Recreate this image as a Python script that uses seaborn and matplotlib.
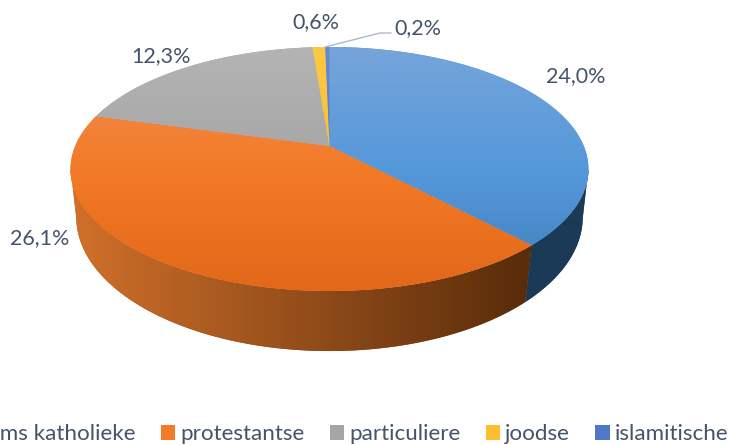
import numpy as np
import seaborn as sns
import matplotlib.pyplot as plt
from matplotlib.colors import to_rgb
from matplotlib.patches import Patch, Polygon

sns.set_theme(style='white')
plt.rcParams['font.family'] = ['Lato', 'DejaVu Sans']

categories = ['rooms katholieke', 'protestantse', 'particuliere', 'joodse', 'islamitische']
values = [24.0, 26.1, 12.3, 0.6, 0.2]
value_labels = ['24,0%', '26,1%', '12,3%', '0,6%', '0,2%']
label_pos = [(576, 76), (40, 238), (161, 56), (316, 22), (418, 28)]

# top colours: upper, middle, lower part of the pie
top_colors = [('#75a5da', '#5598da', '#3f7fbb'),
              ('#f09058', '#f37a26', '#e2681a'),
              ('#b4b4b4', '#a5a5a5', '#989898'),
              ('#fcc844', '#fdbf2d', '#f5b400'),
              ('#6a8ad0', '#4f78c8', '#3f68b8')]
# side colours: left and right end
side_colors = [('#1b3a57', '#1b3a57'),
               ('#d0702a', '#592c0a'),
               ('#7a7a7a', '#5a5a5a'),
               ('#a07a10', '#a07a10'),
               ('#2a4a80', '#2a4a80')]
text_color = '#44546a'


# perspective of the flat pie: top plane and bottom plane, pixel coordinates
def project(u, v, bottom=False):
    if bottom:
        d = 1 + 0.175 * v
        return 329.5 + 249.3 * u / d, (-96.0 * v + 193.6) / d
    d = 1 + 0.1885 * v
    return 329.5 + 254.3 * u / d, (-90.14 * v + 146.0) / d


def mix(c1, c2, t):
    c1, c2 = np.array(to_rgb(c1)), np.array(to_rgb(c2))
    return c1 + (c2 - c1) * t


fig, ax = plt.subplots(figsize=(7.31, 4.45), dpi=100)
fig.subplots_adjust(left=0, right=1, bottom=0, top=1)
wedges, _ = ax.pie(values, startangle=90, counterclock=False)
angles = [(w.theta1, w.theta2) for w in wedges]
for w in wedges:
    w.remove()
ax.set_aspect('auto')

# side wall, horizontal gradient; only the part in front of the widest point shows
for i, (t1, t2) in enumerate(angles):
    th = np.radians(np.linspace(t1, t2, 300))
    th = th[np.sin(th) < -0.18]
    if len(th) < 2:
        continue
    x1, y1 = project(np.cos(th), np.sin(th))
    x2, y2 = project(np.cos(th), np.sin(th), bottom=True)
    pts = np.column_stack([np.r_[x1, x2[::-1]], np.r_[y1, y2[::-1]]])
    poly = Polygon(pts, fc=mix(*side_colors[i], 0.5), ec='none', zorder=1)
    ax.add_patch(poly)
    grad = np.zeros((1, 731, 3))
    for col in range(731):
        grad[0, col] = mix(side_colors[i][0], side_colors[i][1], np.clip((col - 75) / 450, 0, 1))
    im = ax.imshow(grad, extent=(0, 731, 445, 0), aspect='auto', interpolation='bilinear', zorder=2)
    im.set_clip_path(poly)

# top surface, vertical gradient
for i, (t1, t2) in enumerate(angles):
    th = np.radians(np.linspace(t1, t2, 300))
    x, y = project(np.cos(th), np.sin(th))
    x0, y0 = project(0.0, 0.0)
    poly = Polygon(np.column_stack([np.r_[x0, x], np.r_[y0, y]]), fc=top_colors[i][1], ec='none', zorder=3)
    ax.add_patch(poly)
    grad = np.zeros((445, 1, 3))
    for row in range(445):
        if row < 170:
            grad[row, 0] = mix(top_colors[i][0], top_colors[i][1], np.clip((row - 47) / 123, 0, 1))
        else:
            grad[row, 0] = mix(top_colors[i][1], top_colors[i][2], np.clip((row - 170) / 120, 0, 1))
    im = ax.imshow(grad, extent=(0, 731, 445, 0), aspect='auto', interpolation='bilinear', zorder=4)
    im.set_clip_path(poly)

ax.set_xlim(0, 731)
ax.set_ylim(445, 0)
ax.axis('off')

# leader line of the smallest slice
ax.plot([325, 380, 391], [47, 33, 33], color='#adb9ca', lw=1, zorder=5)

for txt, (lx, ly) in zip(value_labels, label_pos):
    ax.text(lx, ly, txt, ha='center', va='center', fontsize=15.5, color=text_color, zorder=6)

handles = [Patch(fc=c[1], ec='none', label=n) for c, n in zip(top_colors, categories)]
fig.legend(handles=handles, loc='center right', bbox_to_anchor=(0.996, 0.024), ncols=5, frameon=False,
           fontsize=16.1, labelcolor=text_color, handlelength=0.63, handleheight=0.63,
           handletextpad=0.22, columnspacing=1.15, borderaxespad=0, borderpad=0)

plt.savefig('out.png', dpi=100)
